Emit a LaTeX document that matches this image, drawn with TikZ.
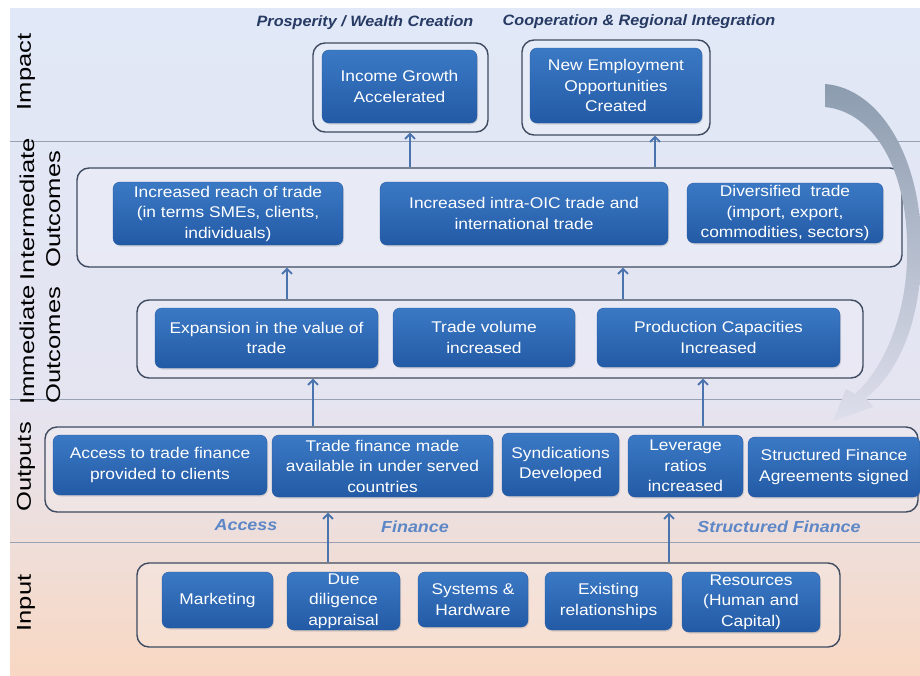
\documentclass[tikz,border=0pt]{standalone}
\usepackage{fontspec}
\setmainfont{Liberation Sans}
\newfontfamily\cellfont[FakeStretch=1.12]{Liberation Sans}
\newfontfamily\lanefont[FakeStretch=1.28]{Liberation Sans}
\newfontfamily\headfont[FakeStretch=1.08]{Liberation Sans}
\usetikzlibrary{arrows.meta,shadows}

\definecolor{bgtop}{HTML}{E1E8F7}
\definecolor{bgmid}{HTML}{E5E4F1}
\definecolor{bgbot}{HTML}{F8D8C3}
\definecolor{celltop}{HTML}{3B79C5}
\definecolor{cellbot}{HTML}{235AA5}
\definecolor{frame}{HTML}{3E4B60}
\definecolor{flowblue}{HTML}{4A74AD}
\definecolor{headnavy}{HTML}{263A64}
\definecolor{tagblue}{HTML}{5D87C6}
\definecolor{swoosh}{HTML}{8C9CAF}

\tikzset{
  cell/.style={rounded corners=7pt, top color=celltop, bottom color=cellbot,
    draw=cellbot, line width=0.4pt, text=white, align=center, inner sep=0pt,
    font=\cellfont\fontsize{15.5}{20.5}\selectfont,
    drop shadow={opacity=0.25, shadow xshift=1pt, shadow yshift=-1.5pt}},
  group/.style={draw=frame, line width=1.4pt, rounded corners=12pt,
    fill=white, fill opacity=0.18, inner sep=0pt},
  lane/.style={rotate=90, align=center, text=black,
    font=\lanefont\fontsize{20}{26}\selectfont},
  head/.style={text=headnavy, font=\headfont\bfseries\itshape\fontsize{15}{18}\selectfont},
  tag/.style={text=tagblue, font=\cellfont\bfseries\itshape\fontsize{16}{19}\selectfont},
  sep/.style={draw=frame!45!bgtop, line width=0.8pt},
  flow/.style={draw=flowblue, line width=1.8pt, ->}
}

\begin{document}
\begin{tikzpicture}[x=1pt, y=-1pt, >={Straight Barb[length=5pt,width=10pt]}]
\useasboundingbox (0,0) rectangle (920,675);

% background bands
\fill[white] (0,0) rectangle (920,675);
\shade[top color=bgtop, bottom color=bgmid] (10,8) rectangle (920,400);
\shade[top color=bgmid, bottom color=bgbot] (10,400) rectangle (920,675);
\draw[sep] (10,141) -- (920,141);
\draw[sep] (10,399) -- (920,399);
\draw[sep] (10,542) -- (920,542);

% lane labels
\node[lane] (lImpact) at (26,72) {Impact};
\node[lane] (lInter) at (40,209) {Intermediate\\Outcomes};
\node[lane] (lImmed) at (40,345) {Immediate\\Outcomes};
\node[lane] (lOutputs) at (26,467) {Outputs};
\node[lane] (lInput) at (26,603) {Input};

% impact
\node[head] (hWealth) at (365,23) {Prosperity / Wealth Creation};
\node[head] (hRegion) at (639,22) {Cooperation \& Regional Integration};
\node[group, minimum width=175pt, minimum height=89pt] (gIncome) at (400.5,87.5) {};
\node[group, minimum width=188pt, minimum height=95pt] (gEmploy) at (616,87.5) {};
\node[cell, minimum width=155pt, minimum height=73pt] (income) at (399.5,86.5) {Income Growth\\Accelerated};
\node[cell, minimum width=172pt, minimum height=75pt] (employ) at (616,85.5) {New Employment\\Opportunities\\Created};

% intermediate outcomes
\node[group, minimum width=825pt, minimum height=99pt] (inter) at (489.5,217.5) {};
\node[cell, minimum width=230pt, minimum height=63pt] (reach) at (228,213.5) {Increased reach of trade\\(in terms SMEs, clients,\\individuals)};
\node[cell, minimum width=288pt, minimum height=63pt] (intra) at (524,213.5) {Increased intra-OIC trade and\\international trade};
\node[cell, minimum width=196pt, minimum height=60pt] (divers) at (785,213) {Diversified\ \ trade\\(import, export,\\commodities, sectors)};

% immediate outcomes
\node[group, minimum width=726pt, minimum height=78pt] (immed) at (500,339) {};
\node[cell, minimum width=223pt, minimum height=60pt] (expans) at (266.5,338) {Expansion in the value of\\trade};
\node[cell, minimum width=182pt, minimum height=59pt] (volume) at (484,337.5) {Trade volume\\increased};
\node[cell, minimum width=243pt, minimum height=59pt] (capac) at (718.5,337.5) {Production Capacities\\Increased};

% outputs
\node[group, minimum width=873pt, minimum height=85pt] (outputs) at (481.5,469.5) {};
\node[cell, minimum width=214pt, minimum height=60pt] (access) at (160,465) {Access to trade finance\\provided to clients};
\node[cell, minimum width=221pt, minimum height=62pt] (served) at (382.5,466) {Trade finance made\\available in under served\\countries};
\node[cell, minimum width=117pt, minimum height=63pt] (syndic) at (560.5,464.5) {Syndications\\Developed};
\node[cell, minimum width=115pt, minimum height=62pt] (lever) at (685.5,466) {Leverage\\ratios\\increased};
\node[cell, minimum width=172pt, minimum height=60pt] (sfa) at (834,467) {Structured Finance\\Agreements signed};
\node[tag] (tAccess) at (246,525) {Access};
\node[tag] (tFinance) at (415,527) {Finance};
\node[tag] (tStruct) at (779,527) {Structured Finance};

% input
\node[group, minimum width=703pt, minimum height=84pt] (input) at (488.5,605) {};
\node[cell, minimum width=111pt, minimum height=56pt] (market) at (217.5,600) {Marketing};
\node[cell, minimum width=113pt, minimum height=58pt] (duedil) at (343.5,601) {Due\\diligence\\appraisal};
\node[cell, minimum width=110pt, minimum height=55pt] (systems) at (473,599.5) {Systems \&\\Hardware};
\node[cell, minimum width=127pt, minimum height=58pt] (exist) at (608.5,601) {Existing\\relationships};
\node[cell, minimum width=138pt, minimum height=60pt] (resour) at (751,602) {Resources\\(Human and\\Capital)};

% links between levels
\draw[flow] (input.north -| 328,0) -- (outputs.south -| 328,0);
\draw[flow] (input.north -| 669,0) -- (outputs.south -| 669,0);
\draw[flow] (outputs.north -| 313,0) -- (immed.south -| 313,0);
\draw[flow] (outputs.north -| 703,0) -- (immed.south -| 703,0);
\draw[flow] (immed.north -| 287,0) -- (inter.south -| 287,0);
\draw[flow] (immed.north -| 623,0) -- (inter.south -| 623,0);
\draw[flow] (inter.north -| 410,0) -- (gIncome.south -| 410,0);
\draw[flow] (inter.north -| 655,0) -- (gEmploy.south -| 655,0);

% feedback swoosh
\shade[top color=swoosh, bottom color=bgmid!92!swoosh]
  (825,84) .. controls (880,88) and (925,160) .. (921,260)
  .. controls (919,330) and (895,375) .. (866,398)
  -- (873,407) -- (833,421) -- (846,389) -- (855,394)
  .. controls (881,371) and (905,322) .. (907,260)
  .. controls (910,172) and (875,112) .. (825,107) -- cycle;
\end{tikzpicture}
\end{document}
